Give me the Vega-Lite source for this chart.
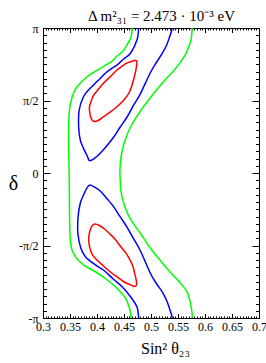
{
  "$schema": "https://vega.github.io/schema/vega-lite/v6.json",
  "width": 216,
  "height": 290,
  "autosize": {"type": "none"},
  "padding": {"left": 43, "top": 28, "right": 7, "bottom": 45},
  "background": "white",
  "config": {
    "view": {"stroke": "#000", "strokeWidth": 1},
    "axis": {"grid": false, "domain": false, "tickColor": "#000", "tickWidth": 1, "labelColor": "#000", "labelFont": "Liberation Serif", "labelFontSize": 12, "titleFont": "Liberation Serif", "titleColor": "#000", "titleFontWeight": "normal", "labelFlush": false, "labelOverlap": false}
  },
  "datasets": {
    "green": [
      {"c": "gL", "i": 1, "s": 0.465, "d": 1.0},
      {"c": "gL", "i": 2, "s": 0.463, "d": 0.938},
      {"c": "gL", "i": 3, "s": 0.4545, "d": 0.876},
      {"c": "gL", "i": 4, "s": 0.4465, "d": 0.834},
      {"c": "gL", "i": 5, "s": 0.436, "d": 0.803},
      {"c": "gL", "i": 6, "s": 0.428, "d": 0.772},
      {"c": "gL", "i": 7, "s": 0.406, "d": 0.722},
      {"c": "gL", "i": 8, "s": 0.382, "d": 0.664},
      {"c": "gL", "i": 9, "s": 0.363, "d": 0.595},
      {"c": "gL", "i": 10, "s": 0.354, "d": 0.526},
      {"c": "gL", "i": 11, "s": 0.349, "d": 0.434},
      {"c": "gL", "i": 12, "s": 0.3475, "d": 0.319},
      {"c": "gL", "i": 13, "s": 0.3475, "d": 0.181},
      {"c": "gL", "i": 14, "s": 0.3484, "d": 0.0},
      {"c": "gL", "i": 15, "s": 0.349, "d": -0.207},
      {"c": "gL", "i": 16, "s": 0.3497, "d": -0.393},
      {"c": "gL", "i": 17, "s": 0.352, "d": -0.508},
      {"c": "gL", "i": 18, "s": 0.36, "d": -0.577},
      {"c": "gL", "i": 19, "s": 0.375, "d": -0.634},
      {"c": "gL", "i": 20, "s": 0.397, "d": -0.681},
      {"c": "gL", "i": 21, "s": 0.419, "d": -0.738},
      {"c": "gL", "i": 22, "s": 0.437, "d": -0.795},
      {"c": "gL", "i": 23, "s": 0.453, "d": -0.864},
      {"c": "gL", "i": 24, "s": 0.461, "d": -0.945},
      {"c": "gL", "i": 25, "s": 0.463, "d": -1.0},
      {"c": "gR", "i": 1, "s": 0.576, "d": 1.0},
      {"c": "gR", "i": 2, "s": 0.574, "d": 0.917},
      {"c": "gR", "i": 3, "s": 0.566, "d": 0.834},
      {"c": "gR", "i": 4, "s": 0.555, "d": 0.766},
      {"c": "gR", "i": 5, "s": 0.54, "d": 0.697},
      {"c": "gR", "i": 6, "s": 0.521, "d": 0.621},
      {"c": "gR", "i": 7, "s": 0.499, "d": 0.521},
      {"c": "gR", "i": 8, "s": 0.4805, "d": 0.428},
      {"c": "gR", "i": 9, "s": 0.464, "d": 0.331},
      {"c": "gR", "i": 10, "s": 0.452, "d": 0.228},
      {"c": "gR", "i": 11, "s": 0.445, "d": 0.124},
      {"c": "gR", "i": 12, "s": 0.4425, "d": 0.021},
      {"c": "gR", "i": 13, "s": 0.443, "d": -0.048},
      {"c": "gR", "i": 14, "s": 0.444, "d": -0.117},
      {"c": "gR", "i": 15, "s": 0.4495, "d": -0.209},
      {"c": "gR", "i": 16, "s": 0.458, "d": -0.29},
      {"c": "gR", "i": 17, "s": 0.468, "d": -0.352},
      {"c": "gR", "i": 18, "s": 0.4805, "d": -0.417},
      {"c": "gR", "i": 19, "s": 0.499, "d": -0.519},
      {"c": "gR", "i": 20, "s": 0.518, "d": -0.607},
      {"c": "gR", "i": 21, "s": 0.532, "d": -0.669},
      {"c": "gR", "i": 22, "s": 0.551, "d": -0.745},
      {"c": "gR", "i": 23, "s": 0.567, "d": -0.821},
      {"c": "gR", "i": 24, "s": 0.573, "d": -0.897},
      {"c": "gR", "i": 25, "s": 0.576, "d": -0.966},
      {"c": "gR", "i": 26, "s": 0.576, "d": -1.0}
    ],
    "blue": [
      {"c": "bU", "i": 1, "s": 0.477, "d": 1.0},
      {"c": "bU", "i": 2, "s": 0.474, "d": 0.917},
      {"c": "bU", "i": 3, "s": 0.462, "d": 0.826},
      {"c": "bU", "i": 4, "s": 0.449, "d": 0.786},
      {"c": "bU", "i": 5, "s": 0.438, "d": 0.748},
      {"c": "bU", "i": 6, "s": 0.419, "d": 0.699},
      {"c": "bU", "i": 7, "s": 0.401, "d": 0.634},
      {"c": "bU", "i": 8, "s": 0.386, "d": 0.579},
      {"c": "bU", "i": 9, "s": 0.375, "d": 0.526},
      {"c": "bU", "i": 10, "s": 0.367, "d": 0.434},
      {"c": "bU", "i": 11, "s": 0.366, "d": 0.319},
      {"c": "bU", "i": 12, "s": 0.369, "d": 0.228},
      {"c": "bU", "i": 13, "s": 0.375, "d": 0.17},
      {"c": "bU", "i": 14, "s": 0.382, "d": 0.117},
      {"c": "bU", "i": 15, "s": 0.386, "d": 0.085},
      {"c": "bU", "i": 16, "s": 0.394, "d": 0.097},
      {"c": "bU", "i": 17, "s": 0.406, "d": 0.136},
      {"c": "bU", "i": 18, "s": 0.419, "d": 0.191},
      {"c": "bU", "i": 19, "s": 0.431, "d": 0.248},
      {"c": "bU", "i": 20, "s": 0.443, "d": 0.317},
      {"c": "bU", "i": 21, "s": 0.456, "d": 0.388},
      {"c": "bU", "i": 22, "s": 0.468, "d": 0.469},
      {"c": "bU", "i": 23, "s": 0.4805, "d": 0.548},
      {"c": "bU", "i": 24, "s": 0.499, "d": 0.693},
      {"c": "bU", "i": 25, "s": 0.51, "d": 0.762},
      {"c": "bU", "i": 26, "s": 0.521, "d": 0.826},
      {"c": "bU", "i": 27, "s": 0.529, "d": 0.883},
      {"c": "bU", "i": 28, "s": 0.534, "d": 0.934},
      {"c": "bU", "i": 29, "s": 0.538, "d": 0.979},
      {"c": "bU", "i": 30, "s": 0.539, "d": 1.0},
      {"c": "bL", "i": 1, "s": 0.477, "d": -1.0},
      {"c": "bL", "i": 2, "s": 0.474, "d": -0.924},
      {"c": "bL", "i": 3, "s": 0.462, "d": -0.853},
      {"c": "bL", "i": 4, "s": 0.447, "d": -0.786},
      {"c": "bL", "i": 5, "s": 0.43, "d": -0.731},
      {"c": "bL", "i": 6, "s": 0.412, "d": -0.669},
      {"c": "bL", "i": 7, "s": 0.397, "d": -0.634},
      {"c": "bL", "i": 8, "s": 0.3785, "d": -0.577},
      {"c": "bL", "i": 9, "s": 0.37, "d": -0.517},
      {"c": "bL", "i": 10, "s": 0.3646, "d": -0.416},
      {"c": "bL", "i": 11, "s": 0.365, "d": -0.301},
      {"c": "bL", "i": 12, "s": 0.369, "d": -0.209},
      {"c": "bL", "i": 13, "s": 0.375, "d": -0.152},
      {"c": "bL", "i": 14, "s": 0.382, "d": -0.099},
      {"c": "bL", "i": 15, "s": 0.387, "d": -0.083},
      {"c": "bL", "i": 16, "s": 0.395, "d": -0.097},
      {"c": "bL", "i": 17, "s": 0.406, "d": -0.124},
      {"c": "bL", "i": 18, "s": 0.419, "d": -0.179},
      {"c": "bL", "i": 19, "s": 0.431, "d": -0.234},
      {"c": "bL", "i": 20, "s": 0.443, "d": -0.303},
      {"c": "bL", "i": 21, "s": 0.456, "d": -0.376},
      {"c": "bL", "i": 22, "s": 0.468, "d": -0.455},
      {"c": "bL", "i": 23, "s": 0.4805, "d": -0.538},
      {"c": "bL", "i": 24, "s": 0.499, "d": -0.693},
      {"c": "bL", "i": 25, "s": 0.51, "d": -0.762},
      {"c": "bL", "i": 26, "s": 0.521, "d": -0.821},
      {"c": "bL", "i": 27, "s": 0.529, "d": -0.879},
      {"c": "bL", "i": 28, "s": 0.534, "d": -0.931},
      {"c": "bL", "i": 29, "s": 0.538, "d": -0.976},
      {"c": "bL", "i": 30, "s": 0.539, "d": -1.0}
    ],
    "redU": [
      {"i": 1, "s": 0.474, "d": 0.766},
      {"i": 2, "s": 0.472, "d": 0.71},
      {"i": 3, "s": 0.469, "d": 0.662},
      {"i": 4, "s": 0.465, "d": 0.607},
      {"i": 5, "s": 0.459, "d": 0.55},
      {"i": 6, "s": 0.449, "d": 0.5},
      {"i": 7, "s": 0.437, "d": 0.457},
      {"i": 8, "s": 0.425, "d": 0.421},
      {"i": 9, "s": 0.412, "d": 0.388},
      {"i": 10, "s": 0.402, "d": 0.362},
      {"i": 11, "s": 0.395, "d": 0.355},
      {"i": 12, "s": 0.39, "d": 0.369},
      {"i": 13, "s": 0.387, "d": 0.407},
      {"i": 14, "s": 0.386, "d": 0.455},
      {"i": 15, "s": 0.39, "d": 0.503},
      {"i": 16, "s": 0.394, "d": 0.538},
      {"i": 17, "s": 0.403, "d": 0.579},
      {"i": 18, "s": 0.412, "d": 0.619},
      {"i": 19, "s": 0.425, "d": 0.666},
      {"i": 20, "s": 0.437, "d": 0.71},
      {"i": 21, "s": 0.447, "d": 0.738},
      {"i": 22, "s": 0.456, "d": 0.759},
      {"i": 23, "s": 0.466, "d": 0.772},
      {"i": 24, "s": 0.471, "d": 0.776}
    ],
    "redL": [
      {"i": 1, "s": 0.396, "d": -0.352},
      {"i": 2, "s": 0.4045, "d": -0.362},
      {"i": 3, "s": 0.414, "d": -0.386},
      {"i": 4, "s": 0.425, "d": -0.424},
      {"i": 5, "s": 0.434, "d": -0.459},
      {"i": 6, "s": 0.443, "d": -0.503},
      {"i": 7, "s": 0.454, "d": -0.554},
      {"i": 8, "s": 0.461, "d": -0.6},
      {"i": 9, "s": 0.467, "d": -0.648},
      {"i": 10, "s": 0.47, "d": -0.697},
      {"i": 11, "s": 0.473, "d": -0.745},
      {"i": 12, "s": 0.473, "d": -0.772},
      {"i": 13, "s": 0.469, "d": -0.783},
      {"i": 14, "s": 0.465, "d": -0.776},
      {"i": 15, "s": 0.456, "d": -0.762},
      {"i": 16, "s": 0.448, "d": -0.745},
      {"i": 17, "s": 0.437, "d": -0.717},
      {"i": 18, "s": 0.425, "d": -0.683},
      {"i": 19, "s": 0.412, "d": -0.641},
      {"i": 20, "s": 0.4, "d": -0.6},
      {"i": 21, "s": 0.392, "d": -0.566},
      {"i": 22, "s": 0.388, "d": -0.531},
      {"i": 23, "s": 0.385, "d": -0.483},
      {"i": 24, "s": 0.385, "d": -0.434},
      {"i": 25, "s": 0.388, "d": -0.386},
      {"i": 26, "s": 0.3915, "d": -0.362}
    ]
  },
  "layer": [
    {
      "data": {"name": "green"},
      "mark": {"type": "line", "color": "#00ff00", "strokeWidth": 1.5, "interpolate": "cardinal", "clip": true},
      "encoding": {
        "x": {"field": "s", "type": "quantitative", "scale": {"domain": [0.3, 0.7], "nice": false, "zero": false},
          "axis": {"orient": "bottom", "values": [0.3, 0.35, 0.4, 0.45, 0.5, 0.55, 0.6, 0.65, 0.7], "format": ".2~f", "tickSize": -4.5, "labelPadding": 7.5, "title": "Sin²  θ₂₃", "titleFontSize": 16, "titleX": 122, "titleY": 35, "titleAlign": "center", "titleBaseline": "alphabetic"}},
        "y": {"field": "d", "type": "quantitative", "scale": {"domain": [-1, 1], "nice": false, "zero": false},
          "axis": {"orient": "left", "values": [-1, -0.5, 0, 0.5, 1], "labelExpr": "datum.value == 1 ? 'π' : datum.value == 0.5 ? 'π/2' : datum.value == 0 ? '0' : datum.value == -0.5 ? '-π/2' : '-π'", "tickSize": -7, "labelPadding": 12, "labelBaseline": "middle", "title": "δ", "titleFontSize": 20, "titleAngle": 0, "titleX": -30, "titleY": 155, "titleAlign": "center", "titleBaseline": "middle"}},
        "detail": {"field": "c"},
        "order": {"field": "i", "type": "quantitative"}
      }
    },
    {
      "data": {"name": "blue"},
      "mark": {"type": "line", "color": "#0000ff", "strokeWidth": 1.5, "interpolate": "cardinal", "clip": true},
      "encoding": {
        "x": {"field": "s", "type": "quantitative", "scale": {"domain": [0.3, 0.7], "nice": false, "zero": false},
          "axis": {"orient": "bottom", "values": [0.3, 0.305, 0.31, 0.315, 0.32, 0.325, 0.33, 0.335, 0.34, 0.345, 0.35, 0.355, 0.36, 0.365, 0.37, 0.375, 0.38, 0.385, 0.39, 0.395, 0.4, 0.405, 0.41, 0.415, 0.42, 0.425, 0.43, 0.435, 0.44, 0.445, 0.45, 0.455, 0.46, 0.465, 0.47, 0.475, 0.48, 0.485, 0.49, 0.495, 0.5, 0.505, 0.51, 0.515, 0.52, 0.525, 0.53, 0.535, 0.54, 0.545, 0.55, 0.555, 0.56, 0.565, 0.57, 0.575, 0.58, 0.585, 0.59, 0.595, 0.6, 0.605, 0.61, 0.615, 0.62, 0.625, 0.63, 0.635, 0.64, 0.645, 0.65, 0.655, 0.66, 0.665, 0.67, 0.675, 0.68, 0.685, 0.69, 0.695, 0.7], "labels": false, "tickSize": -2, "title": null}},
        "y": {"field": "d", "type": "quantitative", "scale": {"domain": [-1, 1], "nice": false, "zero": false},
          "axis": {"orient": "left", "values": [-1, -0.95, -0.9, -0.85, -0.8, -0.75, -0.7, -0.65, -0.6, -0.55, -0.5, -0.45, -0.4, -0.35, -0.3, -0.25, -0.2, -0.15, -0.1, -0.05, 0, 0.05, 0.1, 0.15, 0.2, 0.25, 0.3, 0.35, 0.4, 0.45, 0.5, 0.55, 0.6, 0.65, 0.7, 0.75, 0.8, 0.85, 0.9, 0.95, 1], "labels": false, "tickSize": -3.5, "title": null}},
        "detail": {"field": "c"},
        "order": {"field": "i", "type": "quantitative"}
      }
    },
    {
      "data": {"name": "redU"},
      "mark": {"type": "line", "color": "#ff0000", "strokeWidth": 1.5, "interpolate": "cardinal-closed"},
      "encoding": {
        "x": {"field": "s", "type": "quantitative", "scale": {"domain": [0.3, 0.7], "nice": false, "zero": false},
          "axis": {"orient": "top", "values": [0.3, 0.35, 0.4, 0.45, 0.5, 0.55, 0.6, 0.65, 0.7], "labels": false, "tickSize": -4.5, "title": "Δ m²₃₁ = 2.473 · 10⁻³ eV", "titleFontSize": 15, "titleX": 118, "titleY": -8, "titleAlign": "center", "titleBaseline": "alphabetic"}},
        "y": {"field": "d", "type": "quantitative", "scale": {"domain": [-1, 1], "nice": false, "zero": false},
          "axis": {"orient": "right", "values": [-1, -0.5, 0, 0.5, 1], "labels": false, "tickSize": -7, "title": null}},
        "order": {"field": "i", "type": "quantitative"}
      }
    },
    {
      "data": {"name": "redL"},
      "mark": {"type": "line", "color": "#ff0000", "strokeWidth": 1.5, "interpolate": "cardinal-closed"},
      "encoding": {
        "x": {"field": "s", "type": "quantitative", "scale": {"domain": [0.3, 0.7], "nice": false, "zero": false},
          "axis": {"orient": "top", "values": [0.3, 0.305, 0.31, 0.315, 0.32, 0.325, 0.33, 0.335, 0.34, 0.345, 0.35, 0.355, 0.36, 0.365, 0.37, 0.375, 0.38, 0.385, 0.39, 0.395, 0.4, 0.405, 0.41, 0.415, 0.42, 0.425, 0.43, 0.435, 0.44, 0.445, 0.45, 0.455, 0.46, 0.465, 0.47, 0.475, 0.48, 0.485, 0.49, 0.495, 0.5, 0.505, 0.51, 0.515, 0.52, 0.525, 0.53, 0.535, 0.54, 0.545, 0.55, 0.555, 0.56, 0.565, 0.57, 0.575, 0.58, 0.585, 0.59, 0.595, 0.6, 0.605, 0.61, 0.615, 0.62, 0.625, 0.63, 0.635, 0.64, 0.645, 0.65, 0.655, 0.66, 0.665, 0.67, 0.675, 0.68, 0.685, 0.69, 0.695, 0.7], "labels": false, "tickSize": -2, "title": null}},
        "y": {"field": "d", "type": "quantitative", "scale": {"domain": [-1, 1], "nice": false, "zero": false},
          "axis": {"orient": "right", "values": [-1, -0.95, -0.9, -0.85, -0.8, -0.75, -0.7, -0.65, -0.6, -0.55, -0.5, -0.45, -0.4, -0.35, -0.3, -0.25, -0.2, -0.15, -0.1, -0.05, 0, 0.05, 0.1, 0.15, 0.2, 0.25, 0.3, 0.35, 0.4, 0.45, 0.5, 0.55, 0.6, 0.65, 0.7, 0.75, 0.8, 0.85, 0.9, 0.95, 1], "labels": false, "tickSize": -3.5, "title": null}},
        "order": {"field": "i", "type": "quantitative"}
      }
    },
    {
      "mark": {"type": "rule", "color": "#000", "strokeWidth": 1, "strokeDash": [5, 3]},
      "encoding": {
        "x": {"datum": 0.5, "type": "quantitative", "axis": null}
      }
    }
  ],
  "resolve": {"axis": {"x": "independent", "y": "independent"}}
}
